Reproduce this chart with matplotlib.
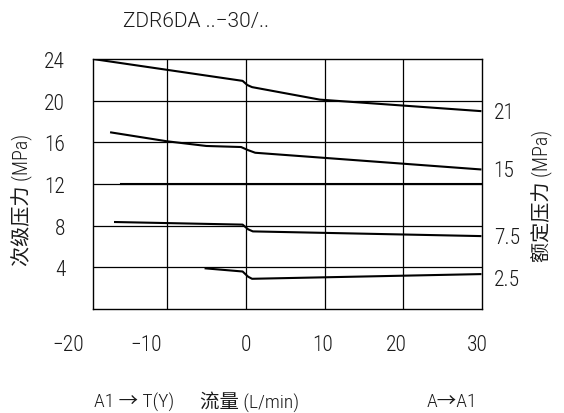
import matplotlib
matplotlib.use("Agg")
import matplotlib.pyplot as plt
from matplotlib import font_manager

# ---------------- data ----------------
title = "ZDR6DA ..\u221230/.."
x_tick_labels = ["\u221220", "\u221210", "0", "10", "20", "30"]
y_tick_values = [4, 8, 12, 16, 20, 24]
x_grid_values = [-10, 0, 10, 20]
rated_labels = ["21", "15", "7.5", "2.5"]

curve21_x = [-19.4, -0.4, 0.2, 0.8, 9.4, 29.8]
curve21_y = [24.0, 21.9, 21.5, 21.3, 20.1, 19.0]

curve15_x = [-17.1, -10.0, -5.0, -0.6, 0.3, 1.2, 29.8]
curve15_y = [16.95, 16.1, 15.65, 15.55, 15.25, 15.0, 13.4]

curve12_x = [-15.8, 30.0]
curve12_y = [12.0, 12.0]

curve75_x = [-16.6, -0.4, 0.3, 0.9, 29.8]
curve75_y = [8.35, 8.1, 7.65, 7.45, 7.0]

curve25_x = [-5.1, -0.4, 0.3, 0.8, 29.8]
curve25_y = [3.9, 3.6, 3.1, 2.9, 3.35]

curves = [(curve21_x, curve21_y), (curve15_x, curve15_y), (curve12_x, curve12_y),
          (curve75_x, curve75_y), (curve25_x, curve25_y)]

# ---------------- fonts ----------------
avail = {f.name for f in font_manager.fontManager.ttflist}


def pick(cands):
    for c in cands:
        if c in avail:
            return c
    return "DejaVu Sans"


narrow = pick(["Roboto Condensed", "Barlow Semi Condensed", "Archivo Narrow",
               "Liberation Sans Narrow", "Liberation Sans"])
wide = pick(["Roboto", "Liberation Sans"])
fam_n = [narrow, "Noto Sans CJK SC", "DejaVu Sans"]
fam_w = [wide, "Noto Sans CJK SC", "DejaVu Sans"]
plt.rcParams['font.family'] = fam_n
plt.rcParams['font.weight'] = 300
TXT = "#1a1a1a"

fig = plt.figure(figsize=(5.64, 4.14), dpi=100)
W, H = 564, 414
ax = fig.add_axes([93 / W, 1 - 310 / H, (482 - 93) / W, (310 - 60) / H])
ax.set_xlim(-19.4, 30.0)
ax.set_ylim(0, 24)

for v in x_grid_values:
    ax.axvline(v, color="black", lw=0.9, zorder=1)
for v in y_tick_values[:-1]:
    ax.axhline(v, color="black", lw=0.9, zorder=1)

for cx, cy in curves:
    ax.plot(cx, cy, color="black", lw=1.5, solid_joinstyle="round", zorder=3)

for s in ax.spines.values():
    s.set_linewidth(1.0)

ax.set_xticks([])
ax.set_yticks(y_tick_values)
ax.set_yticklabels([str(v) for v in y_tick_values], fontsize=15.5, color=TXT)
ax.tick_params(axis="y", length=0, pad=20)

# x tick labels (placed where they appear in the reference)
x_label_pos = [-22.5, -12.7, 0.0, 9.8, 19.1, 29.4]
for lab, xp in zip(x_tick_labels, x_label_pos):
    ax.text(xp, -3.45, lab, ha="center", va="center", fontsize=15.5, color=TXT)

# rated pressure labels on the right
rated_pos = [18.85, 13.3, 6.9, 2.85]
for lab, yp in zip(rated_labels, rated_pos):
    ax.text(1.03, yp / 24, lab, transform=ax.transAxes, ha="left", va="center",
            fontsize=15.5, color=TXT)

fig.text(196 / W, 1 - 22 / H, title, ha="center", va="center", fontsize=15,
         color=TXT, family=fam_w)

fig.text(22 / W, 1 - 200 / H, "次级压力 (MPa)", rotation=90, ha="center", va="center",
         fontsize=14.5, color=TXT)
fig.text(542 / W, 1 - 196 / H, "额定压力 (MPa)", rotation=90, ha="center", va="center",
         fontsize=14.5, color=TXT)

fig.text(134 / W, 1 - 402 / H, "A1 \u2192 T(Y)", ha="center", va="center", fontsize=14, color=TXT)
fig.text(250 / W, 1 - 402 / H, "流量 (L/min)", ha="center", va="center", fontsize=14, color=TXT)
fig.text(452 / W, 1 - 402 / H, "A\u2192A1", ha="center", va="center", fontsize=14, color=TXT)

fig.savefig("out.png", dpi=100)
